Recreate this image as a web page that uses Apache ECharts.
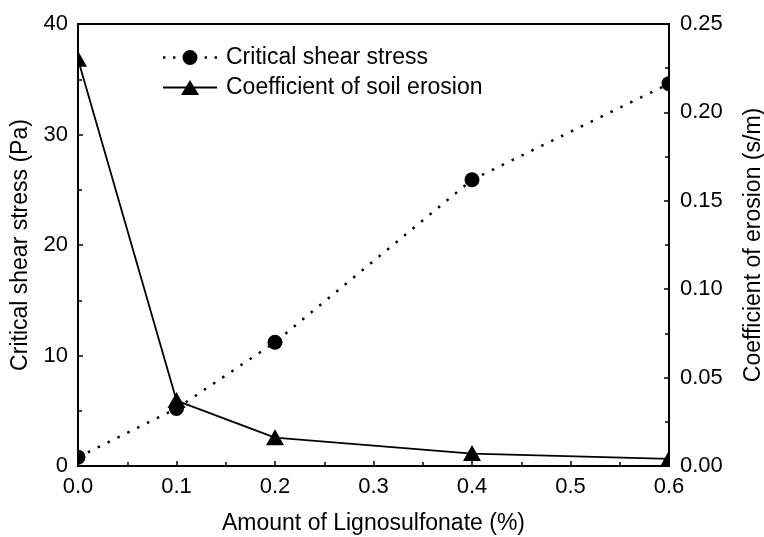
<!DOCTYPE html>
<html>
<head>
<meta charset="utf-8">
<script src="https://cdn.jsdelivr.net/npm/echarts@6/dist/echarts.min.js"></script>
<style>
  html, body { margin: 0; padding: 0; background: #fff; }
  #chart { width: 764px; height: 537px; }
</style>
</head>
<body>
<div id="chart"></div>
<script>
// 木质素磺酸盐掺量 (%)
const amounts = [0.0, 0.1, 0.2, 0.4, 0.6];
const shearStress = [0.8, 5.2, 11.2, 25.9, 34.6];
const erosionCoef = [0.230, 0.037, 0.016, 0.007, 0.004];

const font = 'Liberation Sans, Arial, sans-serif';
const chart = echarts.init(document.getElementById('chart'));

function pairs(ys) {
  return amounts.map((x, i) => [x, ys[i]]);
}

// 图例图标：点线+圆点、实线+三角
const dotIcon = 'path://M0 6.3h2.4v2.4h-2.4z M10 6.3h2.4v2.4h-2.4z ' +
  'M19.5 7.5a7.5 7.5 0 1 0 15 0a7.5 7.5 0 1 0 -15 0z ' +
  'M41.6 6.3h2.4v2.4h-2.4z M51.6 6.3h2.4v2.4h-2.4z';
const triIcon = 'path://M0 6.6h54v1.8h-54z M18 15L27 0L36 15z';

const axisCommon = {
  axisLine: { show: true, lineStyle: { color: '#000', width: 2 } },
  axisTick: { show: true, inside: true, length: 5, lineStyle: { color: '#000', width: 1.5 } },
  minorTick: { show: true, splitNumber: 2, length: 4, lineStyle: { color: '#000', width: 1.5 } },
  splitLine: { show: false },
  axisLabel: { color: '#000', fontSize: 22, fontFamily: font },
  nameTextStyle: { color: '#000', fontSize: 23, fontFamily: font }
};

const option = {
  animation: false,
  backgroundColor: '#fff',
  grid: {
    left: 78, right: 95, top: 24, bottom: 71,
    containLabel: false,
    outerBoundsMode: 'none',
    show: true, borderColor: '#000', borderWidth: 2
  },
  legend: {
    orient: 'vertical',
    left: 163,
    top: 46,
    padding: 0,
    itemWidth: 56,
    itemHeight: 15,
    itemGap: 7,
    textStyle: { color: '#000', fontSize: 23, fontFamily: font, padding: [0, 0, 0, 3] },
    data: [
      { name: 'Critical shear stress', icon: dotIcon, itemStyle: { color: '#000', borderWidth: 0 } },
      { name: 'Coefficient of soil erosion', icon: triIcon, itemStyle: { color: '#000', borderWidth: 0 } }
    ]
  },
  xAxis: Object.assign({}, axisCommon, {
    type: 'value',
    min: 0, max: 0.6, interval: 0.1,
    name: 'Amount of Lignosulfonate (%)',
    nameLocation: 'middle',
    nameGap: 46,
    axisLabel: Object.assign({}, axisCommon.axisLabel, {
      margin: 10,
      formatter: v => v.toFixed(1)
    })
  }),
  yAxis: [
    Object.assign({}, axisCommon, {
      type: 'value',
      position: 'left',
      min: 0, max: 40, interval: 10,
      name: 'Critical shear stress (Pa)',
      nameLocation: 'middle',
      nameGap: 41,
      axisLabel: Object.assign({}, axisCommon.axisLabel, { margin: 10 })
    }),
    Object.assign({}, axisCommon, {
      type: 'value',
      position: 'right',
      min: 0, max: 0.25, interval: 0.05,
      name: 'Coefficient of erosion (s/m)',
      nameLocation: 'middle',
      nameGap: 73,
      axisLabel: Object.assign({}, axisCommon.axisLabel, {
        margin: 11,
        formatter: v => v.toFixed(2)
      })
    })
  ],
  series: [
    {
      name: 'Critical shear stress',
      type: 'line',
      yAxisIndex: 0,
      data: pairs(shearStress),
      symbol: 'none',
      itemStyle: { color: '#000' },
      lineStyle: { color: '#000', width: 2.5, type: [2.5, 8.5] }
    },
    {
      name: 'Coefficient of soil erosion',
      type: 'line',
      yAxisIndex: 1,
      data: pairs(erosionCoef),
      symbol: 'none',
      itemStyle: { color: '#000' },
      lineStyle: { color: '#000', width: 1.8 }
    },
    // 标记点用 custom 系列绘制，以便在坐标轴处被裁切
    {
      name: 'shear-markers',
      type: 'custom',
      yAxisIndex: 0,
      clip: true,
      z: 3,
      data: pairs(shearStress),
      encode: { x: 0, y: 1 },
      renderItem: (params, api) => {
        const p = api.coord([api.value(0), api.value(1)]);
        return { type: 'circle', shape: { cx: p[0], cy: p[1], r: 7.5 }, style: { fill: '#000' } };
      }
    },
    {
      name: 'erosion-markers',
      type: 'custom',
      yAxisIndex: 1,
      clip: true,
      z: 3,
      data: pairs(erosionCoef),
      encode: { x: 0, y: 1 },
      renderItem: (params, api) => {
        const p = api.coord([api.value(0), api.value(1)]);
        return {
          type: 'polygon',
          shape: { points: [[p[0], p[1] - 8.5], [p[0] + 9, p[1] + 7.5], [p[0] - 9, p[1] + 7.5]] },
          style: { fill: '#000' }
        };
      }
    }
  ]
};

chart.setOption(option);
</script>
</body>
</html>
